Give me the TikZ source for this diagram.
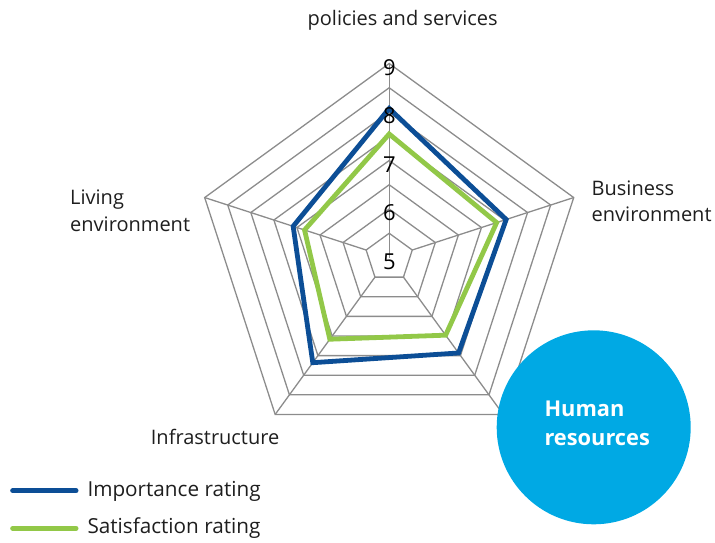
\documentclass[tikz,border=0pt]{standalone}
\usepackage{fontspec}
\setmainfont{Open Sans}
\definecolor{gridgray}{RGB}{140,140,140}
\definecolor{impblue}{RGB}{12,78,150}
\definecolor{satgreen}{RGB}{146,200,72}
\definecolor{hrcyan}{RGB}{0,169,228}
\definecolor{txt}{RGB}{30,30,30}
\begin{document}
\begin{tikzpicture}[x=1pt,y=1pt,
  grid/.style={draw=gridgray, line width=1.3pt},
  series/.style={line width=4.8pt, line join=miter},
  lbl/.style={font=\fontsize{20}{24}\selectfont, text=txt, inner sep=0pt},
  leglbl/.style={font=\fontsize{20.7}{24}\selectfont, text=txt, inner sep=0pt},
  tick/.style={font=\fontsize{22}{24}\selectfont, text=black, inner sep=0pt},
  hrtext/.style={font=\fontsize{21.8}{24}\selectfont\bfseries, text=white, inner sep=0pt, anchor=base west},
  legendline/.style={line width=5pt, line cap=round}]
\useasboundingbox (0,-542) rectangle (715,0);
\coordinate (O) at (389.2,-257.5);
\begin{scope}[shift={(O)}]
  \foreach \k in {1,...,8}{
    \draw[grid] (90:\k*24.25) -- (18:\k*24.25) -- (-54:\k*24.25) -- (-126:\k*24.25) -- (162:\k*24.25) -- cycle;
  }
  \foreach \a in {18,-54,-126,162}{
    \draw[grid] (\a:24.25) -- (\a:194);
  }
  \draw[grid] (0,0) -- (90:194);
  \draw[series, impblue] (90:149) -- (18:123) -- (-54:118) -- (-126:130) -- (162:101) -- cycle;
  \draw[series, satgreen] (90:123.5) -- (18:113) -- (-54:96) -- (-126:101) -- (162:89) -- cycle;
  \foreach \v/\nm in {5/t5,6/t6,7/t7,8/t8,9/t9}{
    \node[tick] (\nm) at (0.3,{(\v-5)*48.5-4}) {\v};
  }
\end{scope}
% axis labels
\node[lbl, anchor=base] (pol) at (402.7,-25) {policies and services};
\node[lbl, anchor=base west] (bus1) at (591.5,-195) {Business};
\node[lbl, anchor=base west] (bus2) at (591.5,-221.7) {environment};
\node[lbl, anchor=base west] (liv1) at (70,-204.3) {Living};
\node[lbl, anchor=base west] (liv2) at (70,-231) {environment};
\node[lbl, anchor=base west] (inf) at (150.7,-444) {Infrastructure};
% human resources circle
\node[circle, fill=hrcyan, minimum size=194pt, inner sep=0pt] (hr) at (593.7,-427.3) {};
\node[hrtext] (hr1) at (544.3,-416.7) {Human};
\node[hrtext] (hr2) at (544.3,-445) {resources};
% legend
\coordinate (l1a) at (12.7,-490.7);
\coordinate (l1b) at (76,-490.7);
\coordinate (l2a) at (12.7,-528.3);
\coordinate (l2b) at (76,-528.3);
\draw[legendline, impblue] (l1a) -- (l1b);
\draw[legendline, satgreen] (l2a) -- (l2b);
\node[leglbl, anchor=base west] (leg1) at (87.3,-496.7) {Importance rating};
\node[leglbl, anchor=base west] (leg2) at (87.3,-533.3) {Satisfaction rating};
\end{tikzpicture}
\end{document}
